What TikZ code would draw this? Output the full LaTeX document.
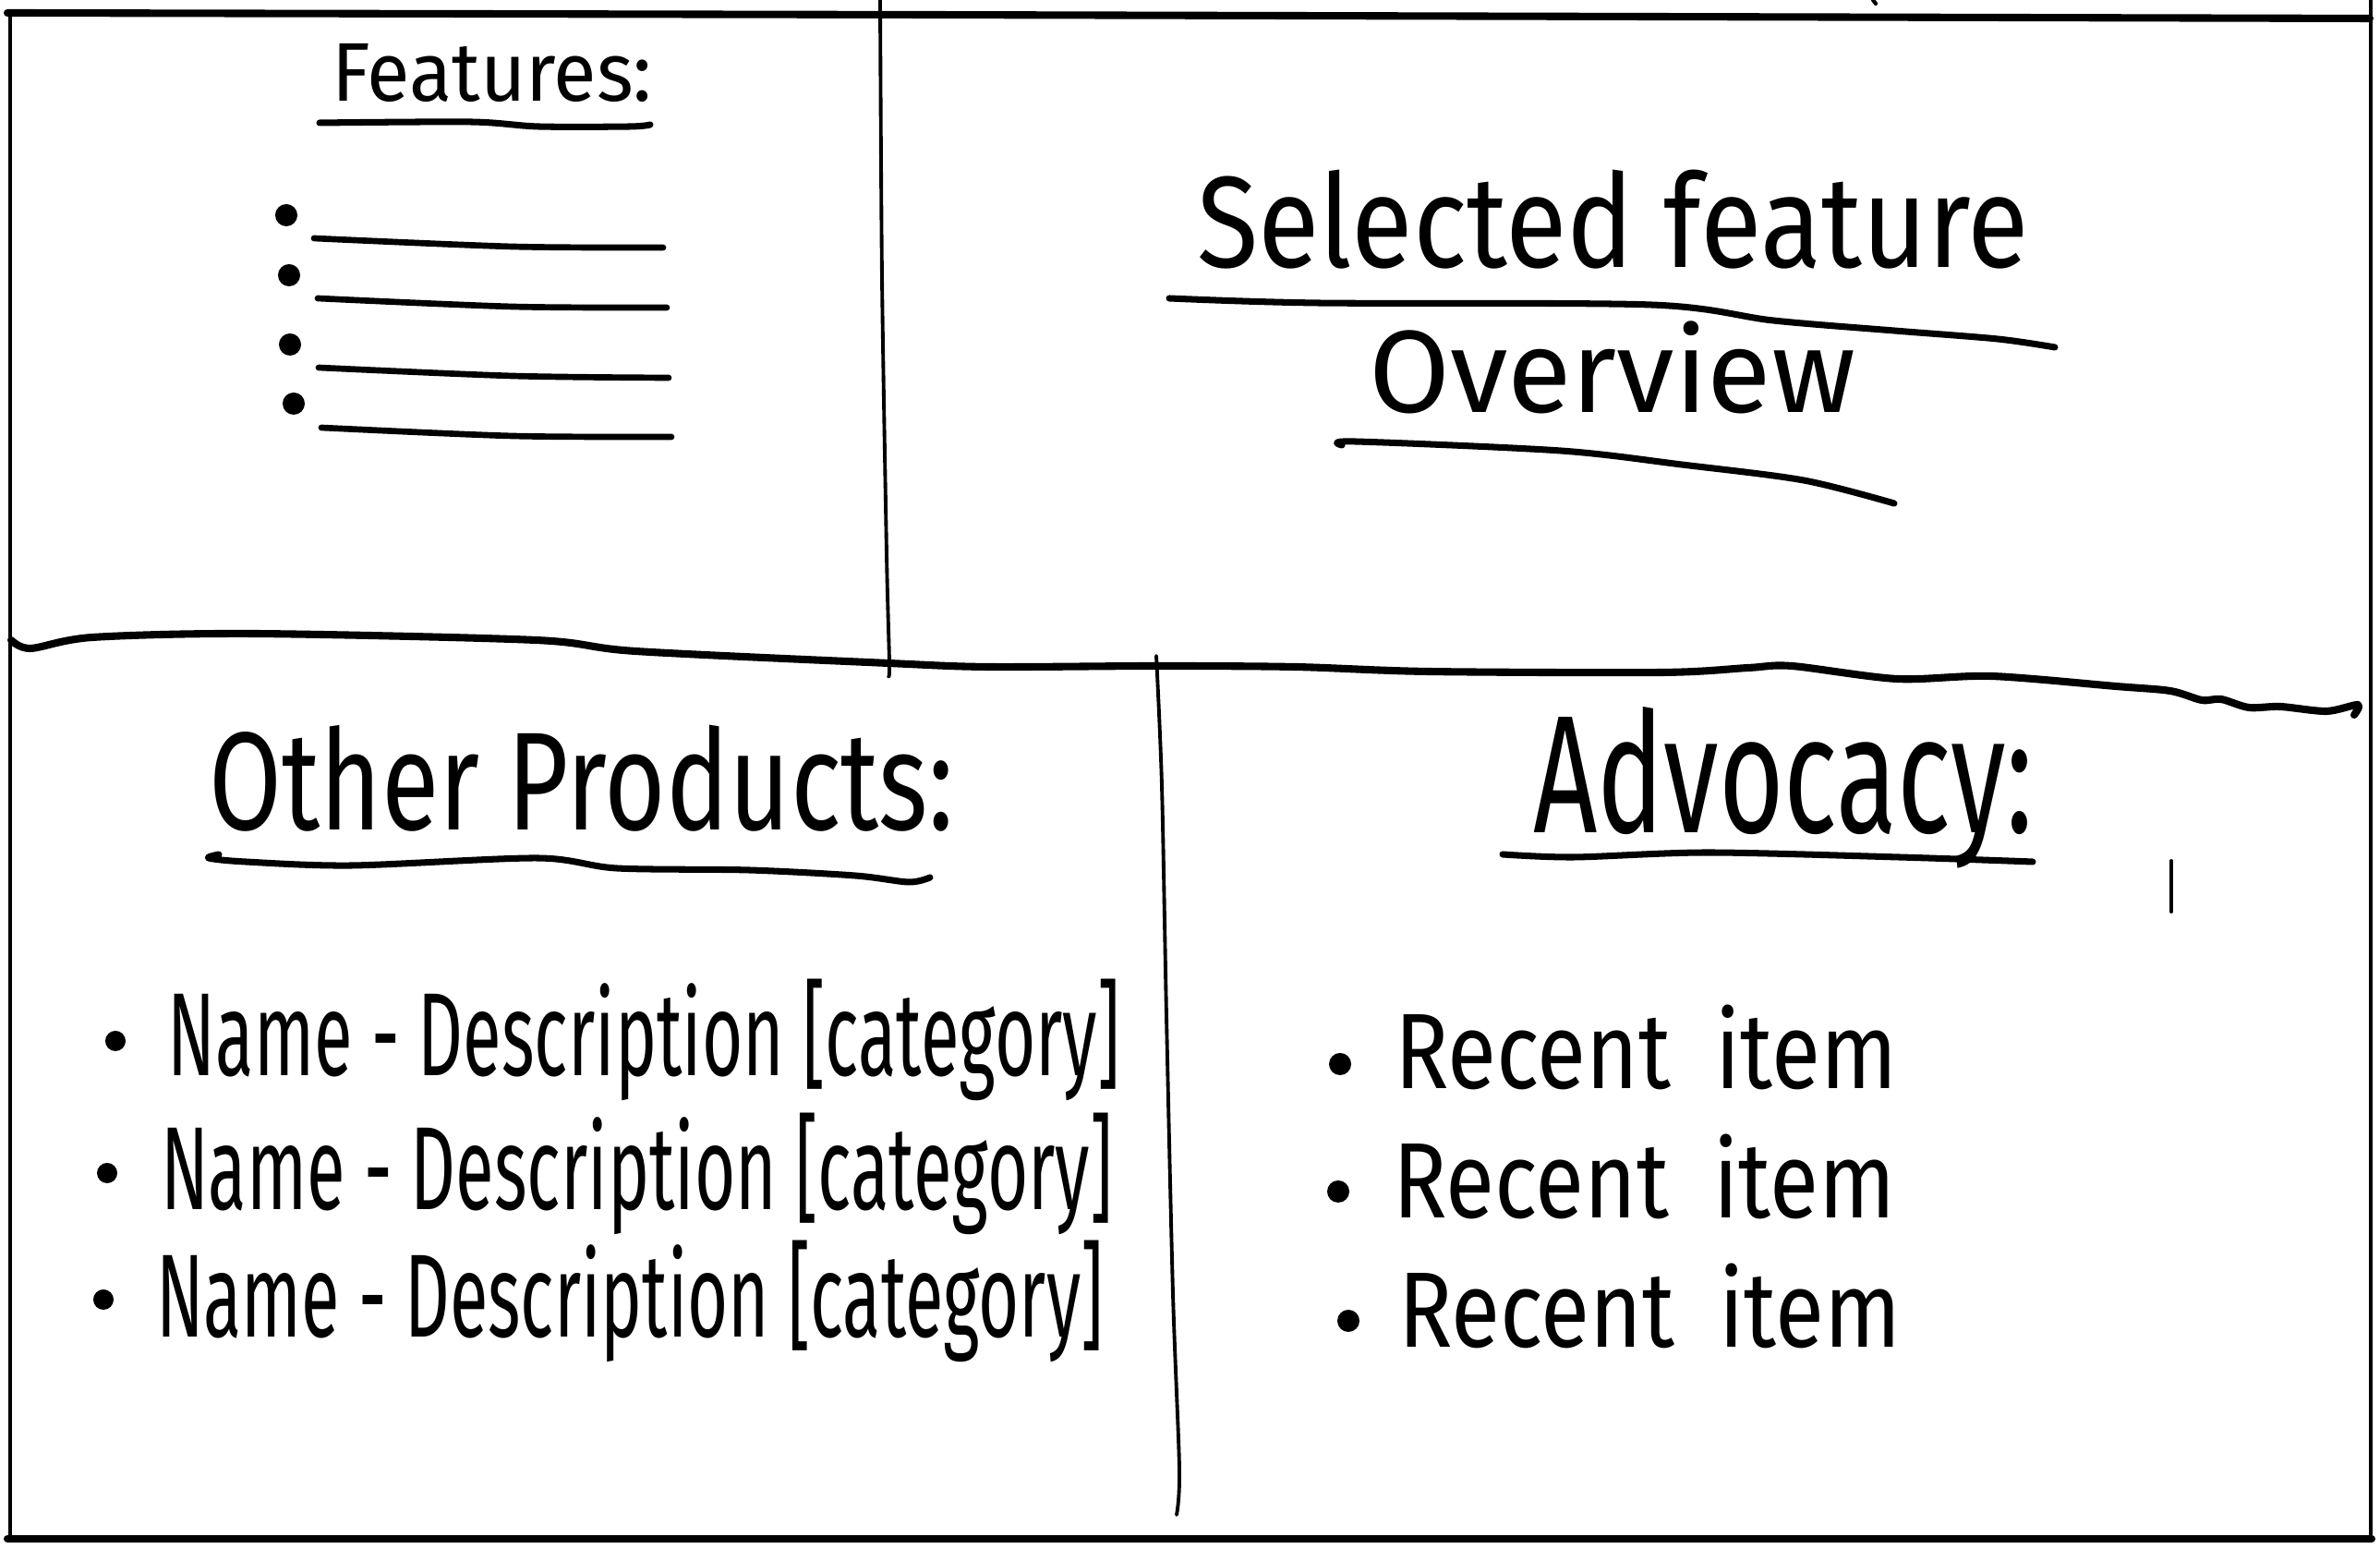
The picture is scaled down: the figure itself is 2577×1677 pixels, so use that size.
\documentclass[tikz,border=0pt]{standalone}
\usepackage{fontspec}
\setmainfont{Fira Sans}
\usepackage{graphicx}
\newcommand\handtext[3]{\resizebox{#1}{\height}{\fontsize{#2}{#2}\selectfont #3}}
\begin{document}
\begin{tikzpicture}[x=0.01cm,y=-0.01cm,line cap=round,line join=round,
  frame/.style={line width=1.4pt},
  heavy/.style={line width=2.3pt},
  divider/.style={line width=1.1pt},
  uline/.style={line width=2pt},
  blank/.style={line width=1.9pt},
  txt/.style={anchor=base west,inner sep=0pt,outer sep=0pt}]
\useasboundingbox (0,0) rectangle (2577,1677);
% outer frame
\draw[heavy] (8,14) -- (1000,16) -- (2566,20);
\draw[frame] (11,14) -- (11,1666);
\draw[frame] (2567,0) -- (2567,1666);
\draw[heavy] (8,1666) -- (2568,1666);
\draw[line width=1.2pt] (2028,0) -- (2031,4);
% dividers
\draw[divider] plot[smooth] coordinates {(953,0) (955,300) (960,600) (963,718) (962,732)};
\draw[heavy] plot[smooth,tension=0.5] coordinates {(12,693) (33,702) (100,690) (274,686) (580,693) (688,705) (962,718) (1070,722) (1250,721) (1402,722) (1546,727) (1800,728) (1893,723) (1940,721) (2054,735) (2156,732) (2291,743) (2350,748) (2384,758) (2405,757) (2435,766) (2469,765) (2519,770) (2553,763) (2549,774)};
\draw[divider] plot[smooth] coordinates {(1252,710) (1258,850) (1263,1100) (1270,1400) (1277,1590) (1274,1640)};
% features
\node[txt] (feat) at (359,110) {\handtext{3.47cm}{25.6pt}{Features:}};
\draw[uline] plot[smooth] coordinates {(346,133) (510,132) (583,137) (682,137) (704,135)};
\foreach \bx/\by/\lya/\lyb/\lyc/\lxa/\lxc in
  {310/233/258/267/268/340/718, 313/298/323/332/333/344/722,
   314/373/398/407/409/345/724, 318/437/463/472/473/348/727}{
  \fill (\bx,\by) circle [radius=1.2mm];
  \draw[blank] plot[smooth] coordinates {(\lxa,\lya) (555,\lyb) (\lxc,\lyc)};
}
% selected feature overview
\node[txt] (sel) at (1296,290) {\handtext{9.00cm}{40pt}{Selected feature}};
\draw[uline] plot[smooth] coordinates {(1266,323) (1427,328) (1788,330) (1920,347) (2051,358) (2163,367) (2225,376)};
\node[txt] (over) at (1482,447) {\handtext{5.27cm}{36pt}{Overview}};
\draw[uline] plot[smooth] coordinates {(1453,482) (1467,478) (1690,488) (1821,503) (1953,520) (2051,545)};
% other products
\node[txt] (other) at (226,899) {\handtext{8.06cm}{43pt}{Other Products:}};
\draw[uline] plot[smooth] coordinates {(237,925) (226,929) (266,933) (381,937) (582,929) (668,940) (811,942) (926,948) (984,955) (1007,950)};
\fill (125,1127) circle [radius=1.1mm];
\fill (116,1270) circle [radius=1.1mm];
\fill (112,1407) circle [radius=1.1mm];
\node[txt] (name1) at (182,1165) {\handtext{10.30cm}{36.4pt}{Name - Description [category]}};
\node[txt] (name2) at (174,1310) {\handtext{10.30cm}{36.4pt}{Name - Description [category]}};
\node[txt] (name3) at (169,1448) {\handtext{10.25cm}{36.4pt}{Name - Description [category]}};
% advocacy
\node[txt] (adv) at (1660,902) {\handtext{5.41cm}{51.6pt}{Advocacy:}};
\draw[uline] plot[smooth] coordinates {(1627,925) (1704,928) (1849,923) (2056,928) (2201,933)};
\draw[line width=1.1pt] (2351,932) -- (2351,987);
\fill (1451,1152) circle [radius=1.2mm];
\fill (1449,1290) circle [radius=1.2mm];
\fill (1460,1430) circle [radius=1.2mm];
\node[txt] (rec1) at (1510,1179) {\handtext{5.44cm}{33pt}{Recent\hspace{0.5em}item}};
\node[txt] (rec2) at (1508,1319) {\handtext{5.44cm}{33pt}{Recent\hspace{0.5em}item}};
\node[txt] (rec3) at (1514,1459) {\handtext{5.44cm}{33pt}{Recent\hspace{0.5em}item}};
\end{tikzpicture}
\end{document}
